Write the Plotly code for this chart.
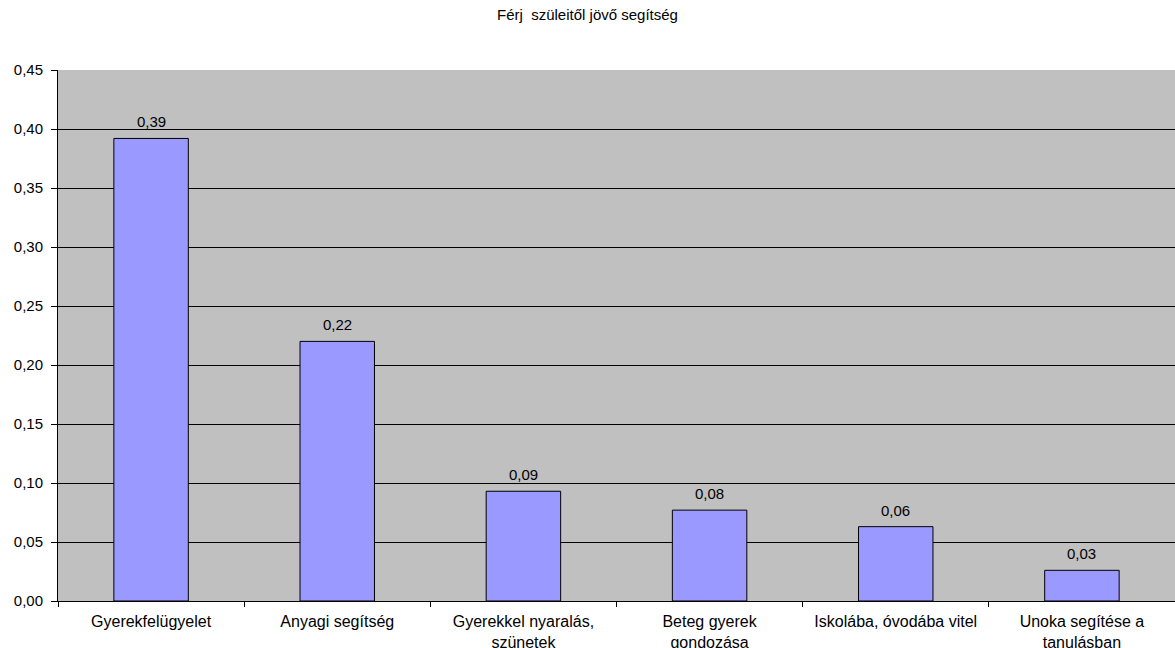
import plotly.graph_objects as go

categories = [
    "Gyerekfelügyelet",
    "Anyagi segítség",
    "Gyerekkel nyaralás,<br>szünetek",
    "Beteg gyerek<br>gondozása",
    "Iskolába, óvodába vitel",
    "Unoka segítése a<br>tanulásban",
]
values = [0.392, 0.220, 0.093, 0.077, 0.063, 0.026]
title_text = "Férj  szüleitől jövő segítség"

FONT = "Liberation Sans, Arial, sans-serif"

fig = go.Figure(
    go.Bar(
        x=categories,
        y=values,
        marker=dict(color="#9999FF", line=dict(color="black", width=1)),
        cliponaxis=False,
        hoverinfo="x+y",
    )
)

for c, v in zip(categories, values):
    fig.add_annotation(
        x=c,
        y=v,
        text=f"{v:.2f}".replace(".", ","),
        showarrow=False,
        yanchor="bottom",
        yshift=6,
        font=dict(family=FONT, size=15, color="black"),
    )

fig.update_layout(
    width=1175,
    height=648,
    margin=dict(l=58, r=0, t=70, b=47, autoexpand=False),
    paper_bgcolor="white",
    plot_bgcolor="#C0C0C0",
    separators=",.",
    bargap=0.6,
    showlegend=False,
    font=dict(family=FONT, size=16, color="black"),
    title=dict(
        text=title_text,
        x=0.5,
        xanchor="center",
        y=1 - 15 / 648,
        yanchor="middle",
        font=dict(family=FONT, size=15, color="black"),
    ),
)

fig.update_yaxes(
    range=[0, 0.45],
    dtick=0.05,
    tickformat=".2f",
    showgrid=True,
    gridcolor="black",
    gridwidth=1,
    showline=True,
    linecolor="black",
    linewidth=1,
    ticks="outside",
    ticklen=6,
    tickcolor="black",
    ticklabelstandoff=5,
    zeroline=True,
    zerolinecolor="black",
    zerolinewidth=1,
    tickfont=dict(family=FONT, size=15, color="black"),
)

fig.update_xaxes(
    showgrid=False,
    showline=True,
    linecolor="black",
    linewidth=1,
    ticks="outside",
    tickson="boundaries",
    ticklen=5,
    tickcolor="black",
    ticklabelstandoff=6,
    tickfont=dict(family=FONT, size=16, color="black"),
)

fig.write_html(
    "out.html",
    config={"displayModeBar": False},
    post_script="document.body.style.margin='0';document.body.style.padding='0';",
)
